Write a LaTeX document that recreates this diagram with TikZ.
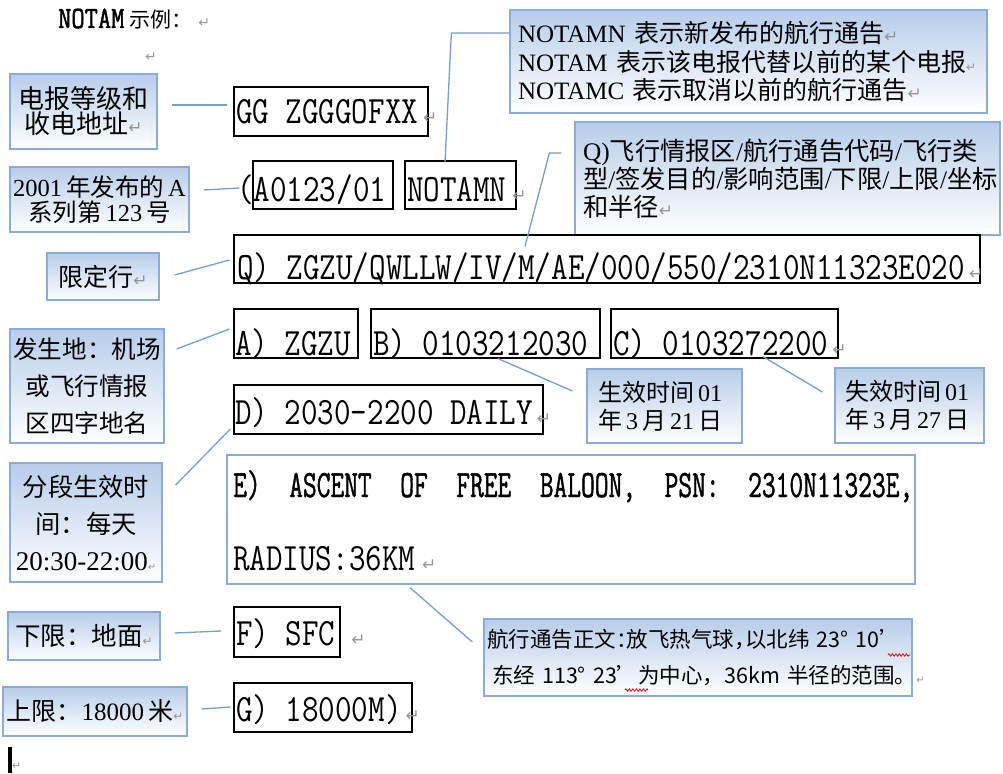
\documentclass[tikz,border=0pt]{standalone}
\usepackage{fontspec}
\usetikzlibrary{decorations.pathmorphing}
\setmainfont{Liberation Serif}
\newfontfamily\mono[FakeStretch=0.83]{Latin Modern Mono}
\newfontfamily\monob[FakeStretch=0.83,FakeBold=1.5]{Latin Modern Mono}
\newfontfamily\monoe[FakeStretch=0.69,FakeBold=1]{Latin Modern Mono}
\newfontfamily\cjk{Noto Sans CJK SC}
\newfontfamily\djv{DejaVu Sans}
\definecolor{cbord}{RGB}{138,172,214}
\definecolor{ctop}{RGB}{183,205,234}
\definecolor{conncol}{RGB}{120,158,205}
\definecolor{retgray}{RGB}{150,150,150}
\newcommand\fsz[2]{\fontsize{#1}{#2}\selectfont}
\newcommand\lat[1]{{\rmfamily #1}}
\newcommand\sla{\lat{/}}
\newcommand\ret[1][17]{{\djv\fontsize{#1}{#1}\selectfont\color{retgray}↵}}
\begin{document}
\begin{tikzpicture}[x=1pt,y=-1pt,
  callout/.style={draw=cbord, line width=1.3pt, top color=ctop, bottom color=white, inner sep=0pt},
  monobox/.style={draw=black, line width=1.2pt, inner sep=0pt},
  mtext/.style={anchor=base west, inner sep=0pt, font=\mono\fsz{38.7}{38.7}},
  conn/.style={draw=conncol, line width=1.3pt},
  squig/.style={draw=red, line width=0.8pt, decorate, decoration={zigzag, amplitude=1.2pt, segment length=3.5pt}}]
\useasboundingbox (0,0) rectangle (1003,773);
\fill[white] (0,0) rectangle (1003,773);

% title
\node[anchor=base west, inner sep=0pt] (title) at (58,28) {{\monob\fsz{31}{31}NOTAM}\hspace{5pt}{\cjk\fsz{21}{21}示例：}\hspace{6pt}\ret[14]};
\node[anchor=base west, inner sep=0pt] (ret2) at (145,62) {\ret[14]};

% callouts
\node[callout, minimum width=147pt, minimum height=75pt, align=center, font=\cjk\fsz{26}{25}] (c1) at (83.5,111.5) {电报等级和\\收电地址\ret};
\node[callout, minimum width=179pt, minimum height=65pt, align=center, font=\cjk\fsz{24.5}{25}] (c2) at (99.5,199.5) {\lat{2001}\,年发布的\,\lat{A}\\系列第\,\lat{123}\,号};
\node[callout, minimum width=477pt, minimum height=103pt, text width=461pt, align=left, font=\cjk\fsz{25}{28.5}] (c3) at (748.5,61.5) {\mbox{\lat{NOTAMN} 表示新发布的航行通告\ret}\\\mbox{\lat{NOTAM} 表示该电报代替以前的某个电报\ret[12]}\\\mbox{\lat{NOTAMC} 表示取消以前的航行通告\ret}};
\node[callout, minimum width=425pt, minimum height=113pt, text width=409pt, align=left, font=\cjk\fsz{25.3}{28}] (c4) at (787.5,178.5) {\mbox{\lat{Q)}飞行情报区\sla 航行通告代码\sla 飞行类}\\\mbox{型\sla 签发目的\sla 影响范围\sla 下限\sla 上限\sla 坐标}\\\mbox{和半径\ret}};
\node[callout, minimum width=112pt, minimum height=47pt, align=center, font=\cjk\fsz{25}{25}] (c5) at (103,276.5) {限定行\ret};
\node[callout, minimum width=154pt, minimum height=114pt, align=center, font=\cjk\fsz{24.6}{37}] (c6) at (87,386) {发生地：机场\\或飞行情报\\区四字地名};
\node[callout, minimum width=155pt, minimum height=74pt, text width=133pt, align=left, font=\cjk\fsz{24}{28}] (c7) at (664.5,406) {生效时间\,\lat{01}\\年\,\lat{3}\,月\,\lat{21}\,日};
\node[callout, minimum width=149pt, minimum height=75pt, text width=129pt, align=left, font=\cjk\fsz{24}{28}] (c8) at (909.5,405.5) {失效时间\,\lat{01}\\年\,\lat{3}\,月\,\lat{27}\,日};
\node[callout, minimum width=152pt, minimum height=119pt, align=center, font=\cjk\fsz{25.3}{37}] (c9) at (86,522.5) {分段生效时\\间：每天\\\lat{\fsz{27}{37}20:30-22:00}\ret[10]};
\node[callout, minimum width=428pt, minimum height=77pt, text width=422pt, align=left, font=\cjk\fsz{21.5}{36}] (c10) at (698,657.5) {\mbox{航行通告正文\makebox[0.5em][l]{：}放飞热气球\makebox[0.5em][l]{，}以北纬 23° 10’}\\\mbox{\hspace{5pt}东经 113° 23’为中心，36km 半径的范围。\ret[10]}};
\node[callout, minimum width=152pt, minimum height=48pt, align=center, font=\cjk\fsz{25.5}{25}] (c11) at (84,636) {下限：地面\ret[12]};
\node[callout, minimum width=184pt, minimum height=49pt, align=center, font=\cjk\fsz{25}{25}] (c12) at (95,711.5) {上限：\lat{18000}\,米\ret[12]};

% NOTAM text boxes
\node[monobox, minimum width=194pt, minimum height=49pt] (gg) at (331,111.5) {};
\node[monobox, minimum width=140pt, minimum height=48pt] (a0) at (323,185) {};
\node[monobox, minimum width=111pt, minimum height=48pt] (notamn) at (460.5,185) {};
\node[monobox, minimum width=746pt, minimum height=48pt] (qrow) at (607,259) {};
\node[monobox, minimum width=124pt, minimum height=49pt] (arow) at (296,333.5) {};
\node[monobox, minimum width=229pt, minimum height=49pt] (brow) at (485.5,333.5) {};
\node[monobox, minimum width=227pt, minimum height=49pt] (crow) at (724.5,333.5) {};
\node[monobox, minimum width=309pt, minimum height=49pt] (drow) at (388.5,409.5) {};
\node[draw=cbord, line width=1.3pt, fill=white, inner sep=0pt, minimum width=688pt, minimum height=129pt] (ebox) at (571,519.5) {};
\node[monobox, minimum width=106pt, minimum height=50pt] (frow) at (287,632) {};
\node[monobox, minimum width=178pt, minimum height=49pt] (grow) at (323,707.5) {};

\node[mtext] (ggt) at (236,124) {GG ZGGGOFXX\hspace{5pt}\ret};
\node[mtext] (a0t) at (237,201) {(A0123/01};
\node[mtext] (nt) at (407,201) {NOTAMN\hspace{6pt}\ret};
\node[mtext] (qt) at (237,279) {Q) ZGZU/QWLLW/IV/M/AE/000/550/2310N11323E020\hspace{4pt}\ret};
\node[mtext] (at) at (235,355) {A) ZGZU};
\node[mtext] (bt) at (373,355) {B) 0103212030};
\node[mtext] (ct) at (613,355) {C) 0103272200\hspace{4pt}\ret};
\node[mtext] (dt) at (235,424) {D) 2030-2200 DAILY\hspace{4pt}\ret};
\node[mtext, font=\monoe\fsz{38.7}{38.7}] (e1) at (233,497) {\makebox[680pt][l]{E)\hfill ASCENT\hfill OF\hfill FREE\hfill BALOON,\hfill PSN:\hfill 2310N11323E,}};
\node[mtext] (e2) at (233,570) {RADIUS:36KM\hspace{7pt}\ret};
\node[mtext] (ft) at (236,645) {F) SFC\hspace{16pt}\ret};
\node[mtext] (gt) at (236,721) {G) 18000M)\hspace{4pt}\ret};

% connectors
\draw[conn] ([shift={(14,-6.5)}]c1.east) -- ([shift={(-6,-6.5)}]gg.west);
\draw[conn] ([shift={(14,-9.5)}]c2.east) -- ([shift={(-13,3)}]a0.west);
\draw[conn] ([shift={(-15.5,2)}]notamn.north) -- ([shift={(-58,-28.5)}]c3.west) -- ([shift={(0,-28.5)}]c3.west);
\draw[conn] ([shift={(-13,-25.5)}]c4.west) -- ++(-12,0) -- ([shift={(-82,12)}]qrow.north);
\draw[conn] ([shift={(15,-1.5)}]c5.east) -- ([shift={(-4,1)}]qrow.west);
\draw[conn] ([shift={(12,-37)}]c6.east) -- ([shift={(-4,-4.5)}]arow.west);
\draw[conn] ([shift={(12.5,0)}]brow.south) -- ([shift={(-14,-15)}]c7.west);
\draw[conn] ([shift={(38.5,-2)}]crow.south) -- ([shift={(-12,-13.5)}]c8.west);
\draw[conn] ([shift={(-3,19.5)}]drow.west) -- ([shift={(13,-37.5)}]c9.east);
\draw[conn] ([shift={(-161,3)}]ebox.south) -- ([shift={(-11,-15.5)}]c10.west);
\draw[conn] ([shift={(14,-3)}]c11.east) -- ([shift={(-12,-1)}]frow.west);
\draw[conn] ([shift={(14,-2.5)}]c12.east) -- ([shift={(-3,-0.5)}]grow.west);

% spelling marks
\draw[squig] (888,655) -- (910,655);
\draw[squig] (625,690) -- (648,690);

% cursor
\node[fill=black, inner sep=0pt, minimum width=4pt, minimum height=26pt] (cursor) at (9.5,760) {};
\node[anchor=base west, inner sep=0pt] (ret3) at (12,769) {\ret[11]};
\end{tikzpicture}
\end{document}
